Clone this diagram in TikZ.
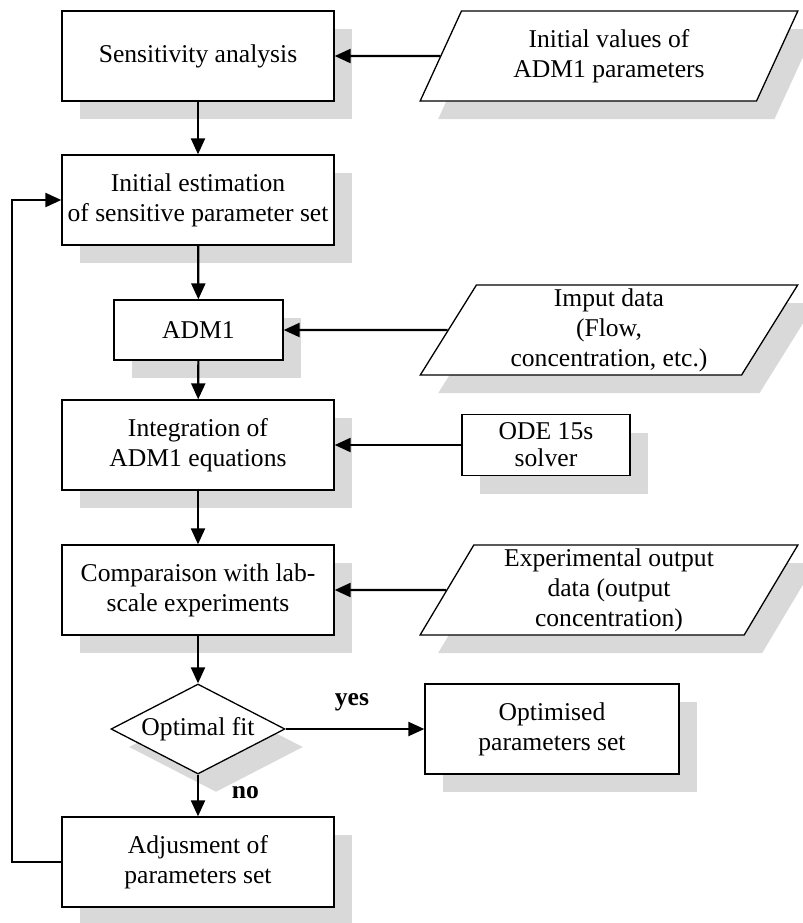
\documentclass[tikz,border=0pt]{standalone}
\usepackage{fontspec}
\setmainfont{Liberation Serif}
\usetikzlibrary{shapes.geometric,shadows,arrows.meta}

\begin{document}
\begin{tikzpicture}[
  x = 0.5pt, y = -0.5pt,
  font = \fontsize{12.8}{15}\selectfont,
  boxshadow/.style = {drop shadow = {shadow xshift = 9pt, shadow yshift = -9pt,
    opacity = 1, fill = black!15}},
  procbox/.style = {draw, fill = white, line width = 0.65pt, align = center,
    inner sep = 0pt, minimum width = 136pt, minimum height = 45pt, boxshadow},
  iobox/.style = {trapezium, trapezium left angle = 63.4,
    trapezium right angle = 116.6, trapezium stretches = true,
    draw, fill = white, line width = 0.65pt, align = center, inner sep = 0pt,
    minimum width = 189pt, minimum height = 45pt, boxshadow},
  testbox/.style = {diamond, aspect = 2, draw, fill = white, line width = 0.65pt,
    inner sep = 0pt, minimum width = 87pt, minimum height = 45pt, boxshadow},
  flow/.style = {line width = 1.1pt, -{Triangle[length = 8pt, width = 7pt]}},
  lbl/.style = {font = \fontsize{12.8}{15}\selectfont\bfseries}
]

\useasboundingbox (0,0) rectangle (803,923);

\node[procbox] (sens) at (198,56) {Sensitivity analysis};
\node[procbox] (init) at (198,200) {Initial estimation\\of sensitive parameter set};
\node[procbox, minimum width = 84.5pt, minimum height = 30pt] (adm) at (198.5,330) {ADM1};
\node[procbox] (integ) at (198,445) {Integration of\\ADM1 equations};
\node[procbox] (comp) at (198,590) {Comparaison with lab-\\scale experiments};
\node[testbox] (fit) at (198,729) {Optimal fit};
\node[procbox] (adj) at (198,862) {Adjusment of\\parameters set};
\node[procbox, minimum width = 127pt] (opt) at (552,729) {Optimised\\parameters set};

\node[iobox] (initvalues) at (609,56) {Initial values of\\ADM1 parameters};
\node[iobox] (input) at (609,330) {Imput data\\(Flow,\\concentration, etc.)};
\node[procbox, minimum width = 84pt, minimum height = 30.5pt,
  font = \fontsize{12.8}{13.5}\selectfont] (ode) at (546,445) {ODE 15s\\solver};
\node[iobox] (expdata) at (609,590) {Experimental output\\data (output\\concentration)};

\coordinate (loop) at (12,862);

\draw[flow] (sens) -- (init);
\draw[flow] (init) -- (adm);
\draw[flow] (adm) -- (integ);
\draw[flow] (integ) -- (comp);
\draw[flow] (comp) -- (fit);
\draw[flow] (fit) -- node[lbl, right = 13pt, yshift = 1.5pt] {no} (adj);
\draw[flow] (fit) -- node[lbl, above = 5pt, xshift = -1.5pt] {yes} (opt);
\draw[flow] (adj.west) -- (loop) |- (init.west);

\draw[flow] (initvalues) -- (sens);
\draw[flow] (input) -- (adm);
\draw[flow] (ode) -- (integ);
\draw[flow] (expdata) -- (comp);

\end{tikzpicture}
\end{document}
